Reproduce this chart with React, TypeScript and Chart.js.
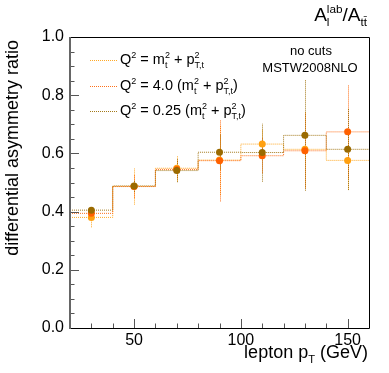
import React, { useEffect, useRef } from "react";
import { Chart, registerables } from "chart.js";

Chart.register(...registerables);

// ---- data ----
const binEdges = [20, 40, 60, 80, 100, 120, 140, 160];
const binCenters = [30, 50, 70, 90, 110, 130, 150];

const seriesLabels = ["Q2 = m2 + p2", "Q2 = 4.0 (m2 + p2)", "Q2 = 0.25 (m2 + p2)"];
const coeffText = ["", "4.0 ", "0.25 "];

const valsNominal = [0.38, 0.487, 0.549, 0.577, 0.632, 0.614, 0.576];
const errNominal = [0.034, 0.063, 0.045, 0.12, 0.05, 0.13, 0.1];

const valsUp = [0.394, 0.486, 0.545, 0.575, 0.592, 0.609, 0.674];
const errUp = [0.02, 0.04, 0.03, 0.14, 0.06, 0.13, 0.16];

const valsDown = [0.405, 0.488, 0.541, 0.604, 0.603, 0.662, 0.614];
const errDown = [0.01, 0.02, 0.04, 0.06, 0.1, 0.19, 0.14];

const xMajorTicks = [50, 100, 150];
const xMinorTicks = [20, 30, 40, 60, 70, 80, 90, 110, 120, 130, 140, 160];
const yMajorTicks = [0, 0.2, 0.4, 0.6, 0.8, 1.0];
const yMinorTicks = [0.05, 0.1, 0.15, 0.25, 0.3, 0.35, 0.45, 0.5, 0.55, 0.65, 0.7, 0.75, 0.85, 0.9, 0.95];

const colors = ["#ffa010", "#ff6000", "#9a6a00"];
const lineColors = ["rgba(255,160,16,0.9)", "rgba(255,96,0,0.9)", "rgba(154,106,0,0.9)"];

const FONT = '"Liberation Sans", Arial, Helvetica, sans-serif';

type Part = { t: string; sup?: string; sub?: string };

function richWidth(ctx: CanvasRenderingContext2D, parts: Part[], size: number) {
  let w = 0;
  for (const p of parts) {
    ctx.font = `${size}px ${FONT}`;
    w += ctx.measureText(p.t).width;
    ctx.font = `${size * 0.62}px ${FONT}`;
    const ws = p.sup ? ctx.measureText(p.sup).width : 0;
    const wb = p.sub ? ctx.measureText(p.sub).width : 0;
    w += Math.max(ws, wb);
  }
  return w;
}

function drawRich(
  ctx: CanvasRenderingContext2D,
  x: number,
  y: number,
  parts: Part[],
  size: number,
  align: "left" | "right" = "left"
) {
  ctx.save();
  ctx.fillStyle = "#000";
  ctx.textAlign = "left";
  ctx.textBaseline = "alphabetic";
  let cx = align === "right" ? x - richWidth(ctx, parts, size) : x;
  for (const p of parts) {
    ctx.font = `${size}px ${FONT}`;
    ctx.fillText(p.t, cx, y);
    cx += ctx.measureText(p.t).width;
    ctx.font = `${size * 0.62}px ${FONT}`;
    let adv = 0;
    if (p.sup) {
      ctx.fillText(p.sup, cx, y - size * 0.42);
      adv = Math.max(adv, ctx.measureText(p.sup).width);
    }
    if (p.sub) {
      ctx.fillText(p.sub, cx, y + size * 0.25);
      adv = Math.max(adv, ctx.measureText(p.sub).width);
    }
    cx += adv;
  }
  ctx.restore();
}

const seriesVals = [valsNominal, valsUp, valsDown];
const seriesErrs = [errNominal, errUp, errDown];

const decorPlugin = {
  id: "decor",
  beforeDatasetsDraw(chart: any) {
    const ctx: CanvasRenderingContext2D = chart.ctx;
    const xs = chart.scales.x;
    const ys = chart.scales.y;
    ctx.save();
    ctx.lineWidth = 1;
    ctx.setLineDash([1, 1]);
    seriesVals.forEach((vals, si) => {
      ctx.strokeStyle = lineColors[si];
      vals.forEach((v, i) => {
        const px = Math.round(xs.getPixelForValue(binCenters[i])) + 0.5;
        ctx.beginPath();
        ctx.moveTo(px, ys.getPixelForValue(v - seriesErrs[si][i]));
        ctx.lineTo(px, ys.getPixelForValue(v + seriesErrs[si][i]));
        ctx.stroke();
      });
    });
    ctx.restore();
  },
  afterDraw(chart: any) {
    const ctx: CanvasRenderingContext2D = chart.ctx;
    const xs = chart.scales.x;
    const ys = chart.scales.y;
    const { left, right, top, bottom } = chart.chartArea;
    ctx.save();
    // ticks
    ctx.strokeStyle = "#555";
    ctx.lineWidth = 1;
    ctx.setLineDash([]);
    ctx.beginPath();
    for (const v of yMajorTicks) {
      const py = Math.round(ys.getPixelForValue(v)) + 0.5;
      ctx.moveTo(left, py);
      ctx.lineTo(left + 9, py);
    }
    for (const v of yMinorTicks) {
      const py = Math.round(ys.getPixelForValue(v)) + 0.5;
      ctx.moveTo(left, py);
      ctx.lineTo(left + 4.5, py);
    }
    for (const v of xMajorTicks) {
      const px = Math.round(xs.getPixelForValue(v)) + 0.5;
      ctx.moveTo(px, bottom);
      ctx.lineTo(px, bottom - 9);
    }
    for (const v of xMinorTicks) {
      const px = Math.round(xs.getPixelForValue(v)) + 0.5;
      ctx.moveTo(px, bottom);
      ctx.lineTo(px, bottom - 4.5);
    }
    ctx.stroke();
    // frame
    ctx.strokeStyle = "#000";
    ctx.beginPath();
    ctx.moveTo(left, top + 0.5);
    ctx.lineTo(right + 0.5, top + 0.5);
    ctx.lineTo(right + 0.5, bottom + 0.5);
    ctx.lineTo(left, bottom + 0.5);
    ctx.stroke();
    ctx.strokeStyle = "#666";
    ctx.lineWidth = 2;
    ctx.beginPath();
    ctx.moveTo(left, top);
    ctx.lineTo(left, bottom + 1);
    ctx.stroke();

    // legend
    ctx.lineWidth = 1;
    ctx.setLineDash([1, 1]);
    const rowY = [64, 90, 115];
    seriesLabels.forEach((_, si) => {
      ctx.strokeStyle = lineColors[si];
      ctx.beginPath();
      ctx.moveTo(90, rowY[si] - 3.5);
      ctx.lineTo(117, rowY[si] - 3.5);
      ctx.stroke();
      const parts: Part[] =
        si === 0
          ? [{ t: "Q", sup: "2" }, { t: " = m", sup: "2", sub: "t" }, { t: " + p", sup: "2", sub: "T,t" }]
          : [
              { t: "Q", sup: "2" },
              { t: " = " + coeffText[si] + "(m", sup: "2", sub: "t" },
              { t: " + p", sup: "2", sub: "T,t" },
              { t: ")" },
            ];
      drawRich(ctx, 120, rowY[si], parts, 14.5);
    });
    ctx.setLineDash([]);

    // labels
    ctx.fillStyle = "#000";
    ctx.textAlign = "center";
    ctx.font = `13px ${FONT}`;
    ctx.fillText("no cuts", 311, 55);
    ctx.fillText("MSTW2008NLO", 310, 72);

    // title top-right
    drawRich(ctx, 367, 21, [{ t: "A", sup: "lab", sub: "l" }, { t: "/A", sub: "tt\u0304" }], 19, "right");

    // x title
    drawRich(ctx, 368, 358, [{ t: "lepton p", sub: "T" }, { t: " (GeV)" }], 18, "right");

    // y title
    ctx.save();
    ctx.translate(18, 40);
    ctx.rotate(-Math.PI / 2);
    ctx.textAlign = "right";
    ctx.font = `18px ${FONT}`;
    ctx.fillText("differential asymmetry ratio", 0, 0);
    ctx.restore();

    ctx.restore();
  },
};

export default function App() {
  const ref = useRef<HTMLCanvasElement>(null);
  useEffect(() => {
    document.body.style.margin = "0";
    const stepData = (vals: number[]) =>
      binEdges.map((e, i) => ({ x: e, y: vals[Math.min(i, vals.length - 1)] }));
    const pointData = (vals: number[]) => binCenters.map((c, i) => ({ x: c, y: vals[i] }));
    const datasets: any[] = [];
    seriesVals.forEach((vals, si) => {
      const ord = 2 - si;
      datasets.push({
        label: seriesLabels[si] + " hist",
        data: stepData(vals),
        showLine: true,
        stepped: "before",
        borderColor: lineColors[si],
        borderWidth: 1,
        borderDash: [1, 1],
        pointRadius: 0,
        fill: false,
        order: ord + 3,
      });
      datasets.push({
        label: seriesLabels[si],
        data: pointData(vals),
        showLine: false,
        pointRadius: 3.5,
        pointBackgroundColor: colors[si],
        pointBorderColor: colors[si],
        pointBorderWidth: 0,
        order: ord,
      });
    });
    const chart = new Chart(ref.current!, {
      type: "scatter",
      data: { datasets },
      options: {
        animation: false,
        responsive: false,
        layout: { padding: { left: 0, top: 37, right: 20, bottom: 0 } },
        plugins: { legend: { display: false }, tooltip: { enabled: false } },
        scales: {
          x: {
            type: "linear",
            min: 20,
            max: 160,
            grid: { display: false, drawTicks: false },
            border: { display: false },
            afterBuildTicks: (s: any) => {
              s.ticks = xMajorTicks.map((v) => ({ value: v }));
            },
            afterFit: (s: any) => {
              s.height = 45;
            },
            ticks: {
              padding: 3,
              color: "#000",
              font: { family: FONT, size: 16 },
              callback: (v: any) => String(v),
            },
          },
          y: {
            type: "linear",
            min: 0,
            max: 1,
            grid: { display: false, drawTicks: false },
            border: { display: false },
            afterBuildTicks: (s: any) => {
              s.ticks = yMajorTicks.map((v) => ({ value: v }));
            },
            afterFit: (s: any) => {
              s.width = 70;
            },
            ticks: {
              padding: 6,
              color: "#000",
              font: { family: FONT, size: 16 },
              callback: (v: any) => Number(v).toFixed(1),
            },
          },
        },
      },
      plugins: [decorPlugin],
    });
    return () => chart.destroy();
  }, []);
  return (
    <div style={{ position: "absolute", left: 0, top: 0 }}>
      <canvas ref={ref} width={389} height={373} style={{ display: "block" }} />
    </div>
  );
}
